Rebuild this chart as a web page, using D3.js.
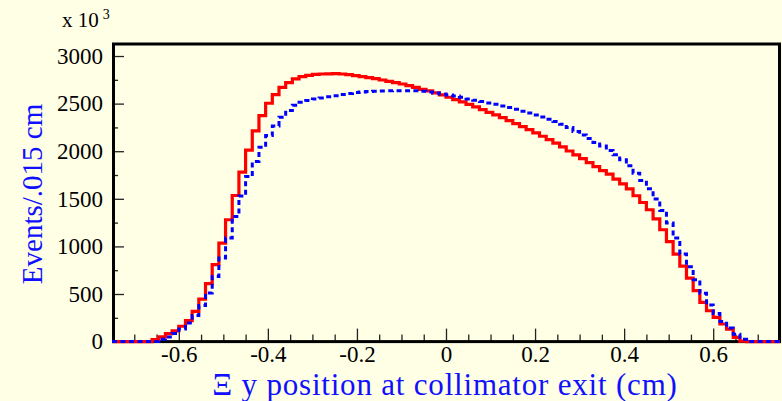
<!DOCTYPE html>
<html>
<head>
<meta charset="utf-8">
<script src="https://cdn.jsdelivr.net/npm/d3@7/dist/d3.min.js"></script>
<style>
  html, body { margin: 0; padding: 0; background: #ffffe6; }
  svg { display: block; }
  text { font-family: "Liberation Serif", "Times New Roman", serif; }
</style>
</head>
<body>
<svg id="chart" width="782" height="401"></svg>
<script>
// Histogram binning: 100 bins of 0.015 cm across [-0.75, 0.75]
const binLow = -0.75;
const binWidth = 0.015;

// Events per bin, in units of 10^3
const redCounts = [
  0, 0, 0, 0, 0, 0, 20, 49, 84, 112,
  161, 220, 318, 447, 608, 808, 1035, 1280, 1535, 1780,
  2011, 2213, 2374, 2504, 2595, 2671, 2720, 2759, 2783, 2797,
  2808, 2811, 2813, 2815, 2811, 2804, 2794, 2783, 2773, 2762,
  2748, 2734, 2720, 2706, 2689, 2671, 2650, 2633, 2612, 2591,
  2567, 2542, 2518, 2493, 2465, 2437, 2409, 2381, 2353, 2322,
  2290, 2259, 2227, 2192, 2157, 2122, 2084, 2046, 2002, 1962,
  1923, 1881, 1839, 1797, 1759, 1707, 1657, 1605, 1532, 1461,
  1385, 1290, 1175, 1050, 918, 793, 666, 535, 413, 324,
  255, 185, 130, 45, 6, 0, 0, 0, 0, 0
];

const blueCounts = [
  0, 0, 0, 0, 0, 0, 0, 25, 49, 84,
  133, 196, 273, 378, 511, 685, 878, 1088, 1315, 1530,
  1734, 1892, 2042, 2164, 2266, 2357, 2427, 2483, 2514, 2532,
  2549, 2560, 2572, 2583, 2597, 2607, 2616, 2623, 2626, 2629,
  2633, 2634, 2636, 2636, 2636, 2634, 2629, 2623, 2612, 2601,
  2591, 2581, 2567, 2549, 2535, 2521, 2507, 2493, 2476, 2458,
  2441, 2420, 2402, 2381, 2360, 2336, 2311, 2284, 2248, 2206,
  2171, 2133, 2091, 2056, 2007, 1962, 1909, 1846, 1769, 1692,
  1605, 1497, 1378, 1245, 1088, 920, 785, 650, 507, 385,
  295, 210, 143, 78, 25, 0, 0, 0, 0, 0
];

// Axis ticks and labels
const xMajorTicks = [-0.6, -0.4, -0.2, 0, 0.2, 0.4, 0.6];
const xTickLabels = ["-0.6", "-0.4", "-0.2", "0", "0.2", "0.4", "0.6"];
const xMinorTicks = [-0.7, -0.65, -0.55, -0.5, -0.45, -0.35, -0.3, -0.25, -0.15, -0.1, -0.05,
                     0.05, 0.1, 0.15, 0.25, 0.3, 0.35, 0.45, 0.5, 0.55, 0.65, 0.7];
const yMajorTicks = [0, 500, 1000, 1500, 2000, 2500, 3000];
const yTickLabels = ["0", "500", "1000", "1500", "2000", "2500", "3000"];
const yMinorTicks = [250, 750, 1250, 1750, 2250, 2750];

const svg = d3.select("#chart");

const x = d3.scaleLinear().domain([-0.75, 0.75]).range([112, 780]);
const y = d3.scaleLinear().domain([0, 3142]).range([341.6, 42.5]);

// Ticks pointing into the frame
const yMinorAxis = d3.axisLeft(y).tickValues(yMinorTicks).tickSize(-6).tickFormat("");
const yMajorAxis = d3.axisLeft(y).tickValues(yMajorTicks).tickSize(-12).tickPadding(9)
  .tickFormat((d, i) => yTickLabels[i]);
const xMinorAxis = d3.axisBottom(x).tickValues(xMinorTicks).tickSize(-7).tickFormat("");
const xMajorAxis = d3.axisBottom(x).tickValues(xMajorTicks).tickSize(-13).tickPadding(4)
  .tickFormat((d, i) => xTickLabels[i]);

function styleAxis(g) {
  g.select(".domain").remove();
  g.selectAll(".tick line").attr("stroke", "#222").attr("stroke-width", 1.3);
  g.selectAll(".tick text")
    .attr("fill", "#000")
    .style("font-family", '"Liberation Serif", "Times New Roman", serif')
    .style("font-size", "23px");
}

svg.append("g").attr("transform", "translate(112,0)").call(yMinorAxis).call(styleAxis);
svg.append("g").attr("transform", "translate(112,0)").call(yMajorAxis).call(styleAxis);
svg.append("g").attr("transform", "translate(0,341.6)").call(xMinorAxis).call(styleAxis);
const xg = svg.append("g").attr("transform", "translate(0,341.6)").call(xMajorAxis).call(styleAxis);
xg.selectAll(".tick text").attr("dy", "0.7em");

// Frame
svg.append("rect")
  .attr("x", 113.5).attr("y", 44)
  .attr("width", 666).attr("height", 297.6)
  .attr("fill", "none").attr("stroke", "#000").attr("stroke-width", 3);

// Step outline for a histogram
function stepPoints(counts) {
  const pts = counts.map((v, i) => [binLow + i * binWidth, v]);
  pts.push([binLow + counts.length * binWidth, counts[counts.length - 1]]);
  return pts;
}
const stepLine = d3.line()
  .x(d => x(d[0]))
  .y(d => y(d[1]))
  .curve(d3.curveStepAfter);

svg.append("path")
  .attr("d", stepLine(stepPoints(redCounts)))
  .attr("fill", "none")
  .attr("stroke", "#ff0000")
  .attr("stroke-width", 3.2)
  .attr("stroke-linejoin", "miter");

svg.append("path")
  .attr("d", stepLine(stepPoints(blueCounts)))
  .attr("fill", "none")
  .attr("stroke", "#0000ff")
  .attr("stroke-width", 3)
  .attr("stroke-dasharray", "5,3.5");

// Scale factor label
const mult = svg.append("text")
  .attr("x", 62).attr("y", 27)
  .attr("fill", "#000")
  .style("font-size", "21px");
mult.append("tspan").text("x 10");
mult.append("tspan").attr("dx", 4).attr("dy", -8).style("font-size", "14px").text("3");

// Axis titles
svg.append("text")
  .attr("x", 445).attr("y", 395)
  .attr("text-anchor", "middle")
  .attr("fill", "#1010ff")
  .style("font-size", "31px")
  .style("letter-spacing", "0.8px")
  .text("Ξ y position at collimator exit (cm)");

svg.append("text")
  .attr("transform", "translate(42,194) rotate(-90)")
  .attr("text-anchor", "middle")
  .attr("fill", "#1010ff")
  .style("font-size", "29px")
  .text("Events/.015 cm");
</script>
</body>
</html>
